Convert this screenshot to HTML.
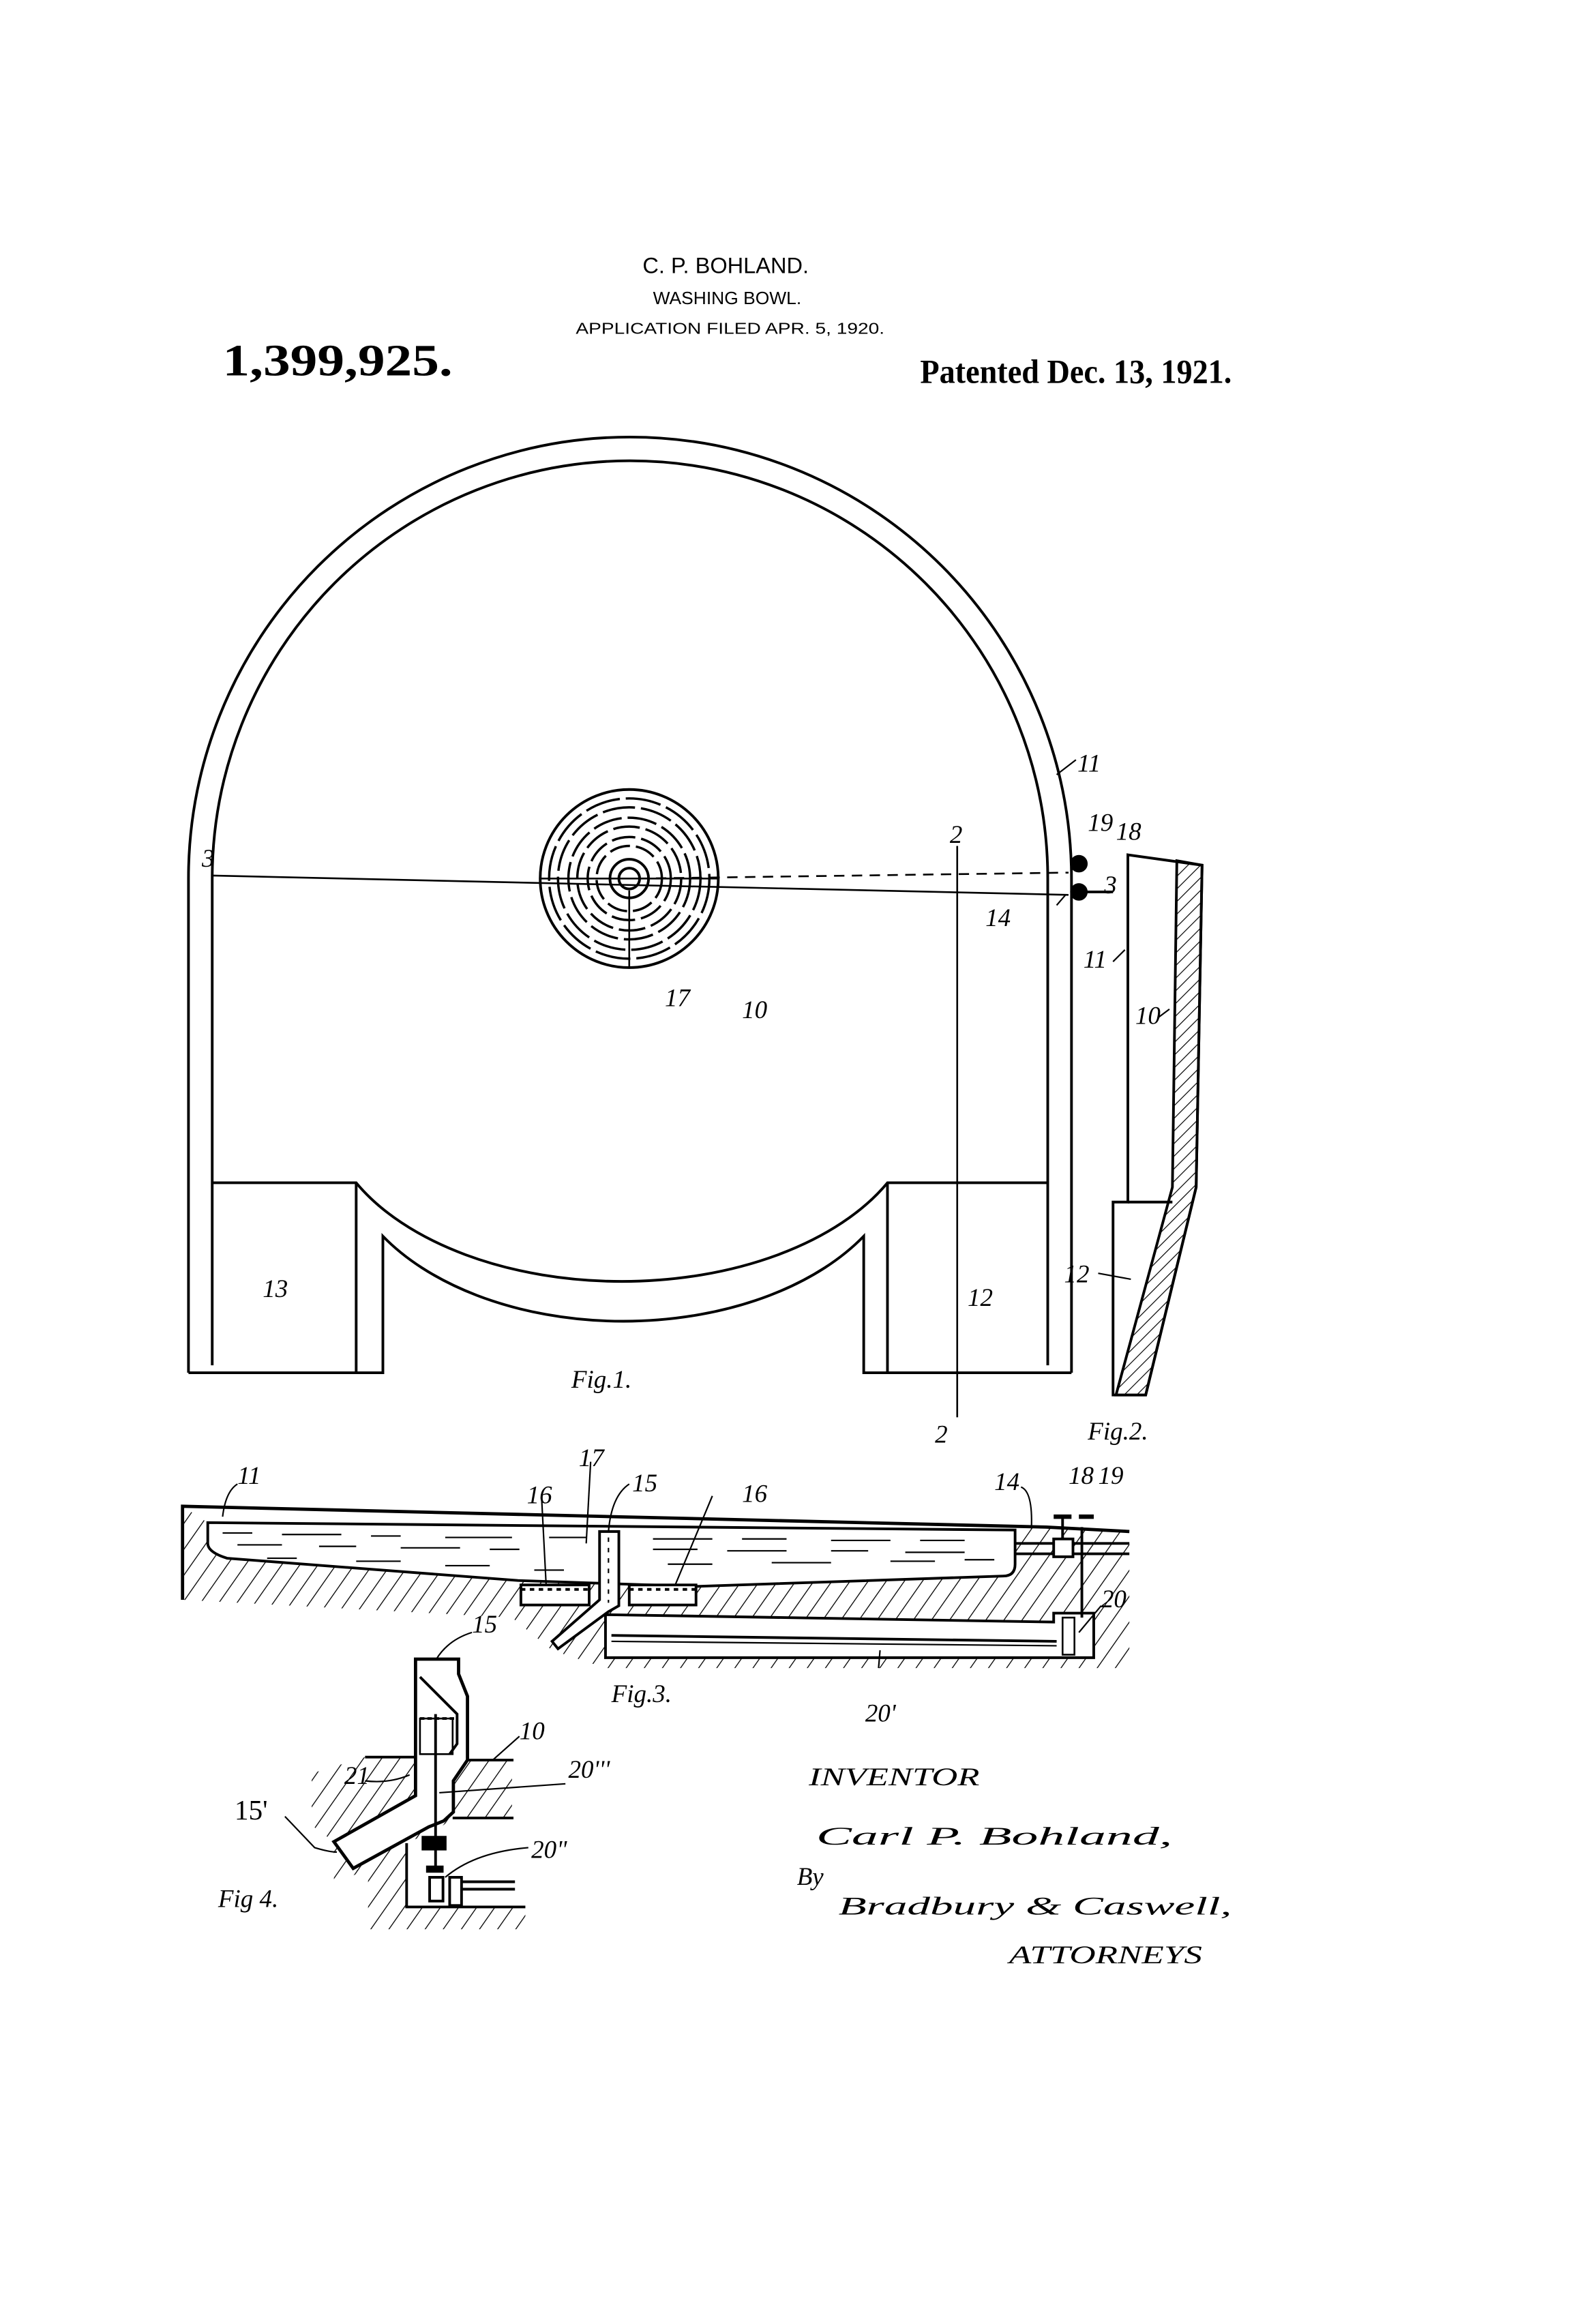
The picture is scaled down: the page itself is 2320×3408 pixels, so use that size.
<!DOCTYPE html>
<html><head><meta charset="utf-8"><style>
html,body{margin:0;padding:0;background:#fff;}
svg{display:block;}
text{fill:#000;}
.h{font-family:"Liberation Sans",sans-serif;}
.s{font-family:"Liberation Serif",serif;}
.l{font-family:"Liberation Serif",serif;font-style:italic;font-size:17px;}
</style></head><body>
<svg width="2320" height="3408" viewBox="0 0 1066 1566" preserveAspectRatio="none" xmlns="http://www.w3.org/2000/svg">
<defs>
<pattern id="hat" patternUnits="userSpaceOnUse" width="10" height="10" patternTransform="rotate(35)">
<line x1="0" y1="0" x2="0" y2="10" stroke="#000" stroke-width="1.2"/></pattern>
<pattern id="hat2" patternUnits="userSpaceOnUse" width="6" height="6" patternTransform="rotate(45)">
<line x1="0" y1="0" x2="0" y2="6" stroke="#000" stroke-width="1.1"/></pattern>
</defs>
<rect width="1066" height="1566" fill="#fff"/>
<!-- header -->
<text class="h" x="433" y="184" font-size="15" textLength="112" lengthAdjust="spacingAndGlyphs">C. P. BOHLAND.</text>
<text class="h" x="440" y="205" font-size="12" textLength="100" lengthAdjust="spacingAndGlyphs">WASHING BOWL.</text>
<text class="h" x="388" y="225" font-size="10.5" textLength="208" lengthAdjust="spacingAndGlyphs">APPLICATION FILED APR. 5, 1920.</text>
<text class="s" x="150" y="253" font-size="30" font-weight="bold" textLength="155" lengthAdjust="spacingAndGlyphs">1,399,925.</text>
<text class="s" x="620" y="258" font-size="23" font-weight="bold" textLength="210" lengthAdjust="spacingAndGlyphs">Patented Dec. 13, 1921.</text>

<g fill="none" stroke="#000" stroke-width="1.8">
<!-- Fig 1 -->
<path d="M127,925 L127,592 A297.5,297.5 0 0 1 722,592 L722,925"/>
<path d="M143,920 L143,592 A281.5,281.5 0 0 1 706,592 L706,920"/>
<path d="M127,925 L258,925 L258,833 A190,120 0 0 0 582,833 L582,925 L722,925"/>
<path d="M143,797 L240,797 A200,120 0 0 0 598,797 L706,797"/>
<line x1="240" y1="797" x2="240" y2="925"/>
<line x1="598" y1="797" x2="598" y2="925"/>
<line x1="143" y1="590" x2="720" y2="603" stroke-width="1.2"/>
<line x1="430" y1="592" x2="720" y2="588" stroke-dasharray="7,5" stroke-width="1.2"/>
<line x1="645" y1="570" x2="645" y2="955" stroke-width="1.2"/>
<!-- drain -->
<circle cx="424" cy="592" r="60"/>
<circle cx="424" cy="592" r="7"/>
<circle cx="424" cy="592" r="13"/>
<g stroke-width="1.6">
<circle cx="424" cy="592" r="22" stroke-dasharray="14,4"/>
<circle cx="424" cy="592" r="28" stroke-dasharray="16,4"/>
<circle cx="424" cy="592" r="35" stroke-dasharray="18,4"/>
<circle cx="424" cy="592" r="41" stroke-dasharray="20,4"/>
<circle cx="424" cy="592" r="48" stroke-dasharray="22,4"/>
<circle cx="424" cy="592" r="54" stroke-dasharray="24,4"/>
</g>
<line x1="424" y1="600" x2="424" y2="652" stroke-width="1.2"/>
<line x1="364" y1="592" x2="484" y2="592" stroke-width="1.2"/>
<circle cx="727" cy="582" r="5" fill="#000"/>
<circle cx="727" cy="601" r="5" fill="#000"/>
<line x1="732" y1="601" x2="750" y2="601"/>

<!-- Fig 2 -->
<path d="M760,576 L810,583 L806,800 L772,940 L750,940 L750,810 L760,810 Z"/>
<path d="M793,580 L810,583 L806,800 L772,940 L752,940 L790,800 Z" fill="url(#hat2)"/>
<line x1="760" y1="810" x2="790" y2="810"/>

<!-- Fig 3 -->
<path d="M123,1015 L140,1026 L140,1045 L153,1050 L349,1065 L468,1069 L676,1062 L684,1054 L684,1031 L705,1029 L761,1032 L761,1124 L408,1124 L372,1112 L345,1090 L123,1078 Z" fill="url(#hat)" stroke="none"/>
<path d="M123,1078 L123,1015 L705,1029 L761,1032" stroke-width="2.2"/>
<path d="M140,1026 L684,1031 L684,1054 Q684,1062 676,1062 L468,1069 L349,1065 L153,1050 Q140,1046 140,1040 Z" fill="#fff"/>
<g stroke-width="1">
<path d="M150,1033 h20 M190,1034 h40 M250,1035 h20 M300,1036 h45 M370,1036 h25 M440,1037 h40 M500,1037 h30 M560,1038 h40 M620,1038 h30"/>
<path d="M160,1041 h30 M215,1042 h25 M270,1043 h40 M330,1044 h20 M440,1044 h30 M490,1045 h40 M560,1045 h25 M610,1046 h40"/>
<path d="M180,1050 h20 M240,1052 h30 M300,1055 h30 M360,1058 h20 M450,1054 h30 M520,1053 h40 M600,1052 h30 M650,1051 h20"/>
</g>
<rect x="351" y="1068" width="46" height="13.5" fill="#fff"/>
<rect x="424" y="1068" width="45" height="13.5" fill="#fff"/>
<line x1="351" y1="1071" x2="397" y2="1071" stroke-dasharray="3,3"/>
<line x1="424" y1="1071" x2="469" y2="1071" stroke-dasharray="3,3"/>
<path d="M404,1032 L404,1078 L372,1106 L376,1111 L410,1086 L417,1082 L417,1032 Z" fill="#fff"/>
<line x1="410" y1="1036" x2="410" y2="1080" stroke-dasharray="3,4" stroke-width="1"/>
<path d="M408,1088 L710,1093 L710,1087 L737,1087 L737,1117 L408,1117 Z" fill="#fff"/>
<line x1="412" y1="1102" x2="712" y2="1106"/>
<line x1="412" y1="1106" x2="712" y2="1109" stroke-width="1"/>
<rect x="716" y="1090" width="8" height="25" fill="#fff" stroke-width="1.2"/>
<path d="M684,1040 L761,1040 M684,1047 L761,1047" />
<rect x="710" y="1037" width="13" height="12" fill="#fff"/>
<line x1="729" y1="1029" x2="729" y2="1090"/>
<line x1="710" y1="1022" x2="722" y2="1022" stroke-width="3"/>
<line x1="716" y1="1022" x2="716" y2="1037"/>
<line x1="727" y1="1022" x2="737" y2="1022" stroke-width="3"/>

<!-- Fig 4 -->
<path d="M246,1184 L280,1184 L280,1210 L225,1241 L238,1259 L289,1231 L299,1227 L305.5,1221 L305.5,1200 L315,1186 L345,1186 L345,1225 L305,1225 L296,1232 L274,1242 L274,1285 L354,1285 L354,1300 L248,1300 L248,1259 L225,1270 L225,1241 L210,1230 L210,1195 Z" fill="url(#hat)" stroke="none"/>
<path d="M280,1118 L309,1118 L309,1128 L315,1143 L315,1186 L305.5,1200 L305.5,1221 L299,1227 L289,1231 L238,1259 L225,1241 L280,1210 L280,1118 Z" fill="#fff" stroke-width="2.2"/>
<path d="M283,1130 L308,1155 L308,1175 L303,1182"/>
<line x1="283" y1="1158" x2="308" y2="1158" stroke-dasharray="3,2"/>
<rect x="283" y="1158" width="22" height="24" stroke-width="1.2"/>
<line x1="246" y1="1184" x2="280" y2="1184"/>
<line x1="315" y1="1186" x2="346" y2="1186"/>
<line x1="305" y1="1225" x2="346" y2="1225"/>
<line x1="293.5" y1="1155" x2="293.5" y2="1259"/>
<rect x="285" y="1238" width="15" height="8" fill="#000"/>
<rect x="288" y="1258" width="10" height="3" fill="#000"/>
<rect x="289.5" y="1265" width="9" height="16"/>
<rect x="303" y="1265" width="8" height="19"/>
<path d="M311,1268 L347,1268 M311,1273 L347,1273"/>
<path d="M274,1242 L274,1285 L354,1285"/>

<!-- leader lines -->
<g stroke-width="1">
<path d="M712,522 L725,512"/>
<path d="M712,610 L718,603"/>
<path d="M750,648 L758,640"/>
<path d="M780,686 L788,680"/>
<path d="M740,858 L762,862"/>
<path d="M160,1000 Q152,1005 150,1022"/>
<path d="M365,1010 L368,1068"/>
<path d="M398,985 L395,1040"/>
<path d="M424,1000 Q412,1008 410,1032"/>
<path d="M480,1008 L455,1068"/>
<path d="M688,1002 Q696,1005 695,1030"/>
<path d="M742,1082 L727,1100"/>
<path d="M593,1112 L592,1124"/>
<path d="M318,1100 Q302,1105 294,1118"/>
<path d="M350,1170 L332,1186"/>
<path d="M381,1202 L296,1208"/>
<path d="M246,1200 Q262,1202 276,1196"/>
<path d="M192,1224 L212,1245 Q222,1248 227,1248"/>
<path d="M356,1245 Q320,1248 300,1265"/>
</g>
</g>

<!-- labels -->
<text class="l" x="136" y="584">3</text>
<text class="l" x="744" y="602">3</text>
<text class="l" x="640" y="568">2</text>
<text class="l" x="630" y="972">2</text>
<text class="l" x="726" y="520">11</text>
<text class="l" x="733" y="560" font-size="14">19</text>
<text class="l" x="752" y="566" font-size="14">18</text>
<text class="l" x="664" y="624">14</text>
<text class="l" x="448" y="678">17</text>
<text class="l" x="500" y="686">10</text>
<text class="l" x="177" y="874">13</text>
<text class="l" x="652" y="880">12</text>
<text class="l" x="730" y="652">11</text>
<text class="l" x="765" y="690">10</text>
<text class="l" x="717" y="864">12</text>
<text class="l" x="385" y="935" font-size="22">Fig.1.</text>
<text class="l" x="733" y="970" font-size="22">Fig.2.</text>
<text class="l" x="160" y="1000">11</text>
<text class="l" x="355" y="1013">16</text>
<text class="l" x="390" y="988">17</text>
<text class="l" x="426" y="1005">15</text>
<text class="l" x="500" y="1012">16</text>
<text class="l" x="670" y="1004">14</text>
<text class="l" x="720" y="1000" font-size="14">18</text>
<text class="l" x="740" y="1000" font-size="14">19</text>
<text class="l" x="742" y="1083">20</text>
<text class="l" x="412" y="1147" font-size="22">Fig.3.</text>
<text class="l" x="583" y="1160">20'</text>
<text class="l" x="318" y="1100">15</text>
<text class="l" x="350" y="1172">10</text>
<text class="l" x="232" y="1202">21</text>
<text class="l" x="383" y="1198">20'''</text>
<text class="s" x="158" y="1226" font-size="19">15'</text>
<text class="l" x="358" y="1252">20"</text>
<text class="l" x="147" y="1285" font-size="20">Fig 4.</text>
<text class="l" x="545" y="1203" font-size="20" textLength="115" lengthAdjust="spacingAndGlyphs">INVENTOR</text>
<text class="l" x="550" y="1243" font-size="34" textLength="240" lengthAdjust="spacingAndGlyphs">Carl P. Bohland,</text>
<text class="l" x="537" y="1270" font-size="20">By</text>
<text class="l" x="565" y="1290" font-size="34" textLength="265" lengthAdjust="spacingAndGlyphs">Bradbury &amp; Caswell,</text>
<text class="l" x="680" y="1323" font-size="18" textLength="130" lengthAdjust="spacingAndGlyphs">ATTORNEYS</text>
</svg>
</body></html>
